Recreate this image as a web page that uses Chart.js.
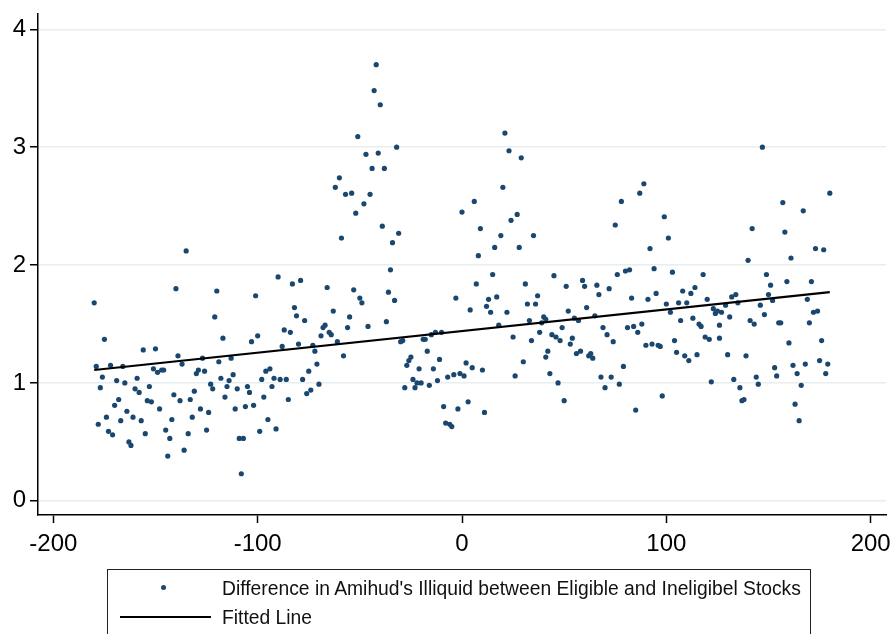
<!DOCTYPE html>
<html>
<head>
<meta charset="utf-8">
<script src="https://cdn.jsdelivr.net/npm/chart.js@4.4.1/dist/chart.umd.min.js"></script>
<style>
  html, body { margin: 0; padding: 0; background: #fff; }
  #wrap { position: relative; width: 891px; height: 634px; overflow: hidden; }
  #legend {
    position: absolute; left: 107px; top: 569px; width: 704px; height: 90px;
    border: 1.5px solid #222; box-sizing: border-box;
    font-family: "Liberation Sans", Arial, sans-serif; font-size: 19.3px; color: #111;
  }
  #legend .dot { position: absolute; left: 53px; top: 15px; width: 5px; height: 5px; border-radius: 50%; background: #1a476f; }
  #legend .ln { position: absolute; left: 12px; top: 46px; width: 91px; height: 2px; background: #000; }
  #legend .t { position: absolute; left: 114px; line-height: 22px; white-space: nowrap; }
</style>
</head>
<body>
<div id="wrap">
  <canvas id="c" width="891" height="634"></canvas>
  <div id="legend">
    <span class="dot"></span>
    <span class="t" style="top:8px">Difference in Amihud's Illiquid between Eligible and Ineligibel Stocks</span>
    <span class="ln"></span>
    <span class="t" style="top:37px">Fitted Line</span>
  </div>
</div>
<script>
// event days relative to index inclusion
var days = [
  -180,-179,-178,-177,-176,-175,-174,-173,-172,-171,-170,-169,-168,-167,-166,-165,-164,-163,-162,-161,
  -160,-159,-158,-157,-156,-155,-154,-153,-152,-151,-150,-149,-148,-147,-146,-145,-144,-143,-142,-141,
  -140,-139,-138,-137,-136,-135,-134,-133,-132,-131,-130,-129,-128,-127,-126,-125,-124,-123,-122,-121,
  -120,-119,-118,-117,-116,-115,-114,-113,-112,-111,-110,-109,-108,-107,-106,-105,-104,-103,-102,-101,
  -100,-99,-98,-97,-96,-95,-94,-93,-92,-91,-90,-89,-88,-87,-86,-85,-84,-83,-82,-81,
  -80,-79,-78,-77,-76,-75,-74,-73,-72,-71,-70,-69,-68,-67,-66,-65,-64,-63,-62,-61,
  -60,-59,-58,-57,-56,-55,-54,-53,-52,-51,-50,-49,-48,-47,-46,-45,-44,-43,-42,-41,
  -40,-39,-38,-37,-36,-35,-34,-33,-32,-31,-30,-29,-28,-27,-26,-25,-24,-23,-22,-21,
  -20,-19,-18,-17,-16,-15,-14,-13,-12,-11,-10,-9,-8,-7,-6,-5,-4,-3,-2,-1,
  0,1,2,3,4,5,6,7,8,9,10,11,12,13,14,15,16,17,18,19,
  20,21,22,23,24,25,26,27,28,29,30,31,32,33,34,35,36,37,38,39,
  40,41,41,42,43,44,45,46,47,48,49,50,51,52,53,54,55,56,57,58,59,
  60,61,62,63,64,65,66,67,68,69,70,71,72,73,74,75,76,77,78,79,
  80,81,82,83,84,85,86,87,88,89,90,91,92,93,94,95,96,97,98,99,
  100,101,102,103,104,105,106,107,108,109,110,111,112,113,114,115,116,117,118,119,
  120,121,122,123,124,125,126,126,127,129,130,131,132,133,134,135,136,137,138,139,
  140,141,142,143,144,145,146,147,148,149,150,151,152,153,154,155,156,157,158,159,
  160,161,162,163,164,165,166,167,168,169,170,171,172,173,174,175,176,177,178,179,180
];
// difference in Amihud illiquidity, eligible minus ineligible
var illiqDiff = [
  1.68,1.14,0.65,0.96,1.05,1.37,0.71,0.59,1.15,0.56,0.81,1.02,0.86,0.68,1.14,1.00,0.76,0.50,0.47,0.71,
  0.95,1.04,0.92,0.68,1.28,0.57,0.85,0.97,0.84,1.12,1.29,1.09,0.78,1.11,1.11,0.60,0.38,0.53,0.69,0.90,
  1.80,1.23,0.85,1.16,0.43,2.12,0.57,0.86,0.71,0.93,1.08,1.11,0.78,1.21,1.10,0.60,0.75,0.99,0.95,1.56,
  1.78,1.18,1.04,1.38,0.88,0.97,1.02,1.21,1.07,0.78,0.95,0.53,0.23,0.53,0.80,0.97,0.92,1.35,0.81,1.74,
  1.40,0.59,1.03,0.88,1.10,0.69,1.12,0.97,1.04,0.61,1.90,1.03,1.31,1.45,1.03,0.86,1.43,1.84,1.64,1.57,
  1.33,1.87,1.03,1.53,0.91,1.10,0.94,1.32,1.27,1.16,0.99,1.40,1.47,1.49,1.81,1.43,1.41,1.61,2.66,1.35,
  2.74,2.23,1.23,2.60,1.47,1.56,2.61,1.79,2.44,3.09,1.72,1.68,2.52,2.94,1.48,2.60,2.82,3.48,3.70,2.95,
  3.36,2.33,2.82,1.52,1.77,1.96,2.19,1.70,3.00,2.27,1.35,1.36,0.96,1.15,1.19,1.22,1.03,0.96,1.00,1.12,
  1.00,1.37,1.37,1.27,0.98,1.41,1.12,1.43,1.02,1.20,1.43,0.80,0.66,1.05,0.65,0.63,1.07,1.72,0.78,1.08,
  2.45,1.06,1.17,0.84,1.62,1.13,2.54,1.84,2.08,2.31,1.11,0.75,1.65,1.71,1.60,1.92,2.15,1.73,1.49,2.25,
  2.66,3.12,1.60,2.97,2.38,1.39,1.06,2.43,2.15,2.91,1.18,1.84,1.67,1.53,1.36,2.25,1.67,1.74,1.43,1.51,
  1.56,1.54,1.22,1.27,1.08,1.41,1.91,1.39,1.00,1.36,1.47,0.85,1.82,1.61,1.33,1.38,1.55,1.25,1.53,1.27,1.87,
  1.82,1.64,1.23,1.25,1.21,1.57,1.83,1.75,1.05,1.47,0.96,1.41,1.80,1.05,1.35,2.34,1.92,0.99,2.54,1.14,
  1.95,1.47,1.96,1.72,1.48,0.77,1.43,2.61,1.50,2.69,1.32,1.71,2.14,1.33,1.97,1.76,1.32,1.31,0.89,2.41,
  1.67,2.23,1.60,1.94,1.36,1.26,1.68,1.53,1.78,1.23,1.68,1.19,1.76,1.55,1.81,1.24,1.50,1.48,1.92,1.39,
  1.71,1.37,1.01,1.63,1.59,1.61,1.49,1.38,1.60,1.66,1.24,1.56,1.73,1.03,1.75,1.68,0.96,0.85,0.86,1.23,
  2.04,1.53,2.31,1.50,1.05,0.99,1.66,3.00,1.58,1.92,1.75,1.83,1.70,1.13,1.06,1.51,1.51,2.53,2.28,1.86,
  1.34,2.06,1.15,0.82,1.08,0.68,0.98,2.46,1.16,1.71,1.51,1.86,1.60,2.14,1.61,1.19,1.36,2.13,1.08,1.16,2.61
];
// fitted line end points
var fitDays = [-180, 180];
var fitValues = [1.11, 1.77];

var xTicks = [-200, -100, 0, 100, 200];
var yTicks = [0, 1, 2, 3, 4];

var navy = '#1a476f';
var tickFont = { family: '"Liberation Sans", Arial, sans-serif', size: 24 };

var scatterPts = days.map(function (d, i) { return { x: d, y: illiqDiff[i] }; });
var fitPts = fitDays.map(function (d, i) { return { x: d, y: fitValues[i] }; });

new Chart(document.getElementById('c'), {
  type: 'scatter',
  data: {
    datasets: [
      {
        label: 'Fitted Line',
        type: 'line',
        data: fitPts,
        borderColor: '#000',
        borderWidth: 2.2,
        pointRadius: 0,
        fill: false,
        order: 0
      },
      {
        label: "Difference in Amihud's Illiquid between Eligible and Ineligibel Stocks",
        data: scatterPts,
        backgroundColor: navy,
        borderColor: navy,
        borderWidth: 0,
        pointRadius: 2.6,
        order: 1
      }
    ]
  },
  options: {
    responsive: false,
    animation: false,
    layout: { padding: { top: 14, right: 5, bottom: 74, left: 0 } },
    plugins: { legend: { display: false }, tooltip: { enabled: false } },
    scales: {
      x: {
        type: 'linear',
        min: -207.5,
        max: 207.5,
        afterBuildTicks: function (s) { s.ticks = xTicks.map(function (v) { return { value: v }; }); },
        afterFit: function (s) { s.height = 45; s.paddingLeft = 0; s.paddingRight = 0; },
        border: { display: true, color: '#000', width: 1.5 },
        grid: { drawOnChartArea: false, tickLength: 8, tickColor: '#000', tickWidth: 1.5 },
        ticks: { color: '#000', font: tickFont, padding: 7, maxRotation: 0 }
      },
      y: {
        type: 'linear',
        min: -0.12,
        max: 4.13,
        afterBuildTicks: function (s) { s.ticks = yTicks.map(function (v) { return { value: v }; }); },
        afterFit: function (s) { s.width = 38; s.paddingTop = 0; s.paddingBottom = 0; },
        border: { display: true, color: '#000', width: 1.5 },
        grid: { color: '#e6eef0', lineWidth: 1.5, tickLength: 8, tickColor: '#000', tickWidth: 1.5 },
        ticks: { color: '#000', font: tickFont, padding: 4 }
      }
    }
  }
});
</script>
</body>
</html>
